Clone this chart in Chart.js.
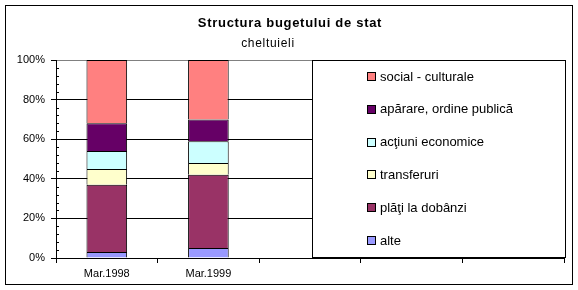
<!DOCTYPE html>
<html>
<head>
<meta charset="utf-8">
<script src="https://cdn.jsdelivr.net/npm/chart.js@4"></script>
<style>
  body { margin: 0; background: #fff; }
  canvas { display: block; }
</style>
</head>
<body>
<canvas id="budget" width="578" height="290"></canvas>
<script>
// Categories (only the first two have data, the rest are empty slots)
const categories = ['Mar.1998', 'Mar.1999', '', '', ''];

// Series values in percent, bottom to top
const alte = [3, 5];
const platiDobanzi = [34, 37];
const transferuri = [8, 6];
const actiuniEconomice = [9, 11];
const aparare = [14, 11];
const socialCulturale = [32, 30];

const seriesNames = ['alte', 'plăţi la dobânzi', 'transferuri', 'acţiuni economice', 'apărare, ordine publică', 'social - culturale'];
const seriesColors = ['#9999FF', '#993366', '#FFFFCC', '#CCFFFF', '#660066', '#FF8080'];
const seriesData = [alte, platiDobanzi, transferuri, actiuniEconomice, aparare, socialCulturale];

const yTicks = [0, 20, 40, 60, 80, 100];

const FONT = 'Arial, "Liberation Sans", sans-serif';

// Titles, minor ticks, legend box and outer frame
const decorations = {
  id: 'decorations',
  afterDraw(chart) {
    const c = chart.ctx;
    const area = chart.chartArea;
    const y = chart.scales.y;
    c.save();

    // minor ticks on y axis, inside the plot
    c.strokeStyle = '#000';
    c.lineWidth = 1;
    for (let v = 4; v < 100; v += 4) {
      if (v % 20 === 0) continue;
      const py = Math.round(y.getPixelForValue(v)) + 0.5;
      c.beginPath();
      c.moveTo(area.left, py);
      c.lineTo(area.left + 3, py);
      c.stroke();
    }

    // titles
    c.fillStyle = '#000';
    c.textAlign = 'center';
    c.textBaseline = 'middle';
    c.letterSpacing = '0.7px';
    c.font = 'bold 13px ' + FONT;
    c.fillText('Structura bugetului de stat', 290, 23);
    c.font = '12px ' + FONT;
    c.fillText('cheltuieli', 268, 44);
    c.letterSpacing = '0px';

    // legend box
    const lx = 312, ly = area.top, lw = 253, lh = area.bottom - area.top;
    c.fillStyle = '#fff';
    c.fillRect(lx, ly, lw, lh);
    c.strokeStyle = '#000';
    c.strokeRect(lx + 0.5, ly + 0.5, lw, lh - 1);
    c.font = '13px ' + FONT;
    c.textAlign = 'left';
    for (let i = 0; i < seriesNames.length; i++) {
      const idx = seriesNames.length - 1 - i;
      const cy = ly + 16 + i * 32.8;
      c.fillStyle = seriesColors[idx];
      c.fillRect(367, Math.round(cy) - 4, 9, 9);
      c.strokeStyle = '#000';
      c.strokeRect(367.5, Math.round(cy) - 3.5, 8, 8);
      c.fillStyle = '#000';
      c.fillText(seriesNames[idx], 380, cy + 1);
    }

    // outer frame
    c.strokeStyle = '#000';
    c.strokeRect(5.5, 5.5, 567, 279);
    c.restore();
  }
};

new Chart(document.getElementById('budget'), {
  type: 'bar',
  data: {
    labels: categories,
    datasets: seriesNames.map((name, i) => ({
      label: name,
      data: seriesData[i],
      backgroundColor: seriesColors[i],
      borderColor: '#000',
      borderWidth: 1,
      categoryPercentage: 1,
      barPercentage: 0.4,
    })),
  },
  options: {
    responsive: false,
    animation: false,
    devicePixelRatio: 1,
    layout: { padding: { left: 0, top: 60, right: 14, bottom: 0 } },
    plugins: {
      legend: { display: false },
      title: { display: false },
      tooltip: { enabled: false },
    },
    scales: {
      x: {
        stacked: true,
        afterFit: (s) => { s.height = 32; },
        grid: { drawOnChartArea: false, tickLength: 5, color: '#000', tickColor: '#000' },
        border: { color: '#000', width: 1 },
        ticks: { color: '#000', font: { family: FONT, size: 11 }, padding: 4, maxRotation: 0, autoSkip: false },
      },
      y: {
        stacked: true,
        min: 0,
        max: 100,
        afterFit: (s) => { s.width = 56; },
        afterBuildTicks: (s) => { s.ticks = yTicks.map((v) => ({ value: v })); },
        grid: {
          color: (ctx) => (ctx.tick && ctx.tick.value === 100 ? '#808080' : '#000'),
          tickColor: '#000',
          tickLength: 5,
        },
        border: { color: '#000', width: 1 },
        ticks: { color: '#000', font: { family: FONT, size: 11 }, padding: 6, callback: (v) => v + '%' },
      },
    },
  },
  plugins: [decorations],
});
</script>
</body>
</html>
